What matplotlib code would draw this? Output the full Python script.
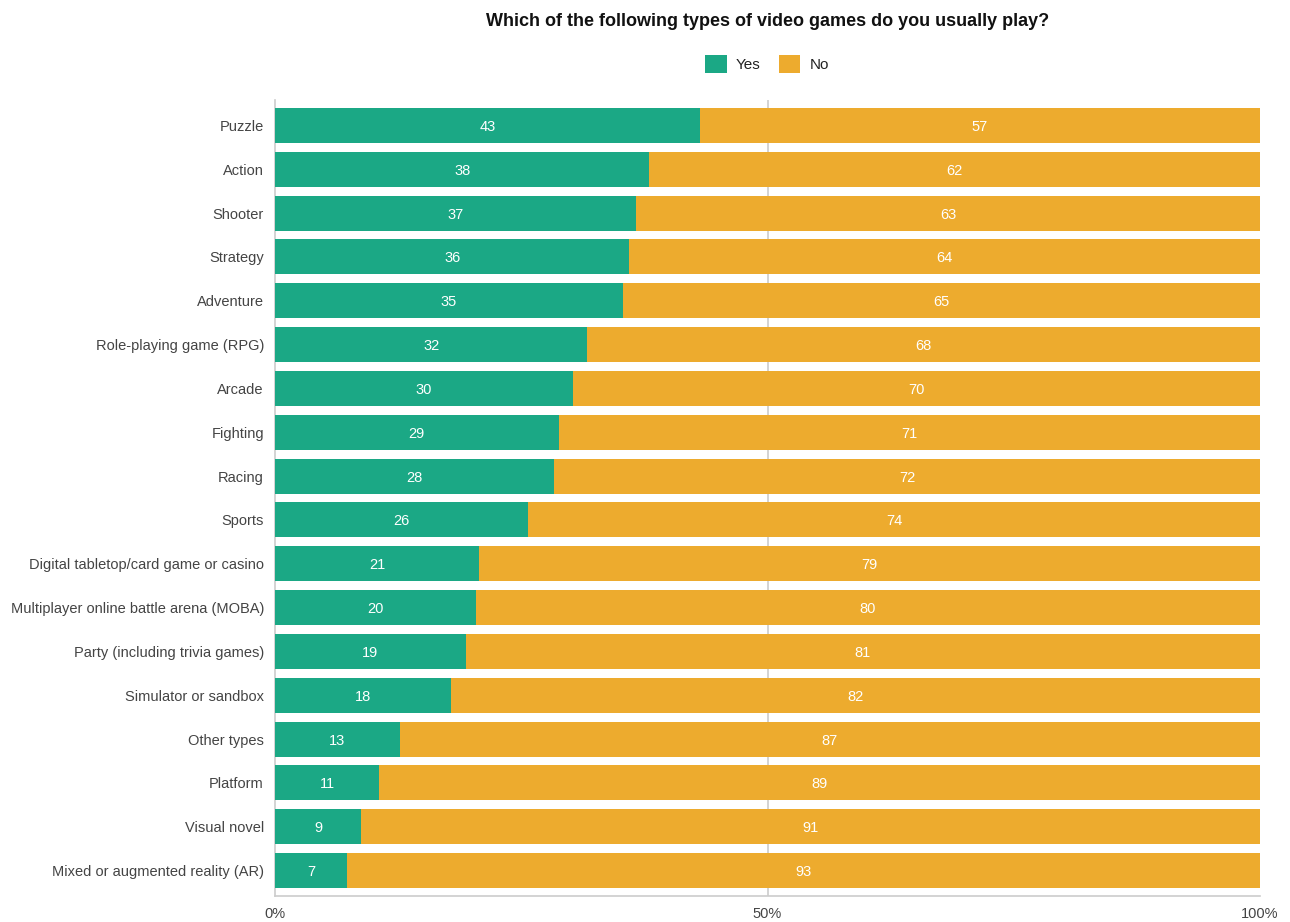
import matplotlib
matplotlib.use("Agg")
import matplotlib.pyplot as plt
from matplotlib.patches import Patch

plt.rcParams['font.family'] = ['Liberation Sans', 'DejaVu Sans']

categories = ["Puzzle", "Action", "Shooter", "Strategy", "Adventure",
              "Role-playing game (RPG)", "Arcade", "Fighting", "Racing", "Sports",
              "Digital tabletop/card game or casino", "Multiplayer online battle arena (MOBA)",
              "Party (including trivia games)", "Simulator or sandbox", "Other types",
              "Platform", "Visual novel", "Mixed or augmented reality (AR)"]
# shares (percent)
yes_vals = [43.15, 38.0, 36.68, 35.97, 35.33, 31.71, 30.28, 28.80, 28.32, 25.69,
            20.71, 20.38, 19.36, 17.87, 12.66, 10.56, 8.73, 7.34]
no_vals = [56.85, 62.0, 63.32, 64.03, 64.67, 68.29, 69.72, 71.20, 71.68, 74.31,
           79.29, 79.62, 80.64, 82.13, 87.34, 89.44, 91.27, 92.66]
# labels as printed on the bars
yes_labels = [43, 38, 37, 36, 35, 32, 30, 29, 28, 26, 21, 20, 19, 18, 13, 11, 9, 7]
no_labels = [57, 62, 63, 64, 65, 68, 70, 71, 72, 74, 79, 80, 81, 82, 87, 89, 91, 93]
x_ticks = [0, 50, 100]
x_tick_labels = ["0%", "50%", "100%"]
title = "Which of the following types of video games do you usually play?"

GREEN = "#1ba885"
ORANGE = "#edab2e"
GRID = "#cccccc"

W, H = 1290, 922
fig = plt.figure(figsize=(W / 100, H / 100), dpi=100)
ax = fig.add_axes([275 / W, 1 - 896 / H, (1260 - 275) / W, (896 - 100) / H])

y = list(range(len(categories)))
ax.barh(y, yes_vals, height=0.8, color=GREEN, zorder=3)
ax.barh(y, no_vals, left=yes_vals, height=0.8, color=ORANGE, zorder=3)

for i, (a, b, la, lb) in enumerate(zip(yes_vals, no_vals, yes_labels, no_labels)):
    ax.text(a / 2, i, str(la), ha="center", va="center_baseline", color="white", fontsize=10.5, zorder=4)
    ax.text(a + b / 2, i, str(lb), ha="center", va="center_baseline", color="white", fontsize=10.5, zorder=4)

ax.set_xlim(0, 100)
ax.set_ylim(len(categories) - 0.42, -0.58)
ax.set_yticks(y)
ax.set_yticklabels(categories, fontsize=10.5, color="#444444")
ax.set_xticks(x_ticks)
ax.set_xticklabels(x_tick_labels, fontsize=10.5, color="#444444")
ax.tick_params(axis="both", length=0, pad=8)
ax.tick_params(axis="x", pad=8)

for s in ["top", "right"]:
    ax.spines[s].set_visible(False)
ax.spines["left"].set_color(GRID)
ax.spines["bottom"].set_color(GRID)
ax.spines["left"].set_linewidth(1.2)
ax.spines["bottom"].set_linewidth(1.2)
ax.axvline(50, color=GRID, lw=1.2, zorder=1)

fig.text((275 + 1260) / 2 / W, 1 - 22 / H, title, ha="center", va="center",
         fontsize=13, fontweight="bold", color="#111111")

handles = [Patch(facecolor=GREEN, label="Yes"), Patch(facecolor=ORANGE, label="No")]
fig.legend(handles=handles, loc="center", bbox_to_anchor=(767 / W, 1 - 64 / H), ncol=2,
           frameon=False, fontsize=11, handlelength=1.4, handleheight=1.4,
           handletextpad=0.6, columnspacing=1.2, labelcolor="#222222")

fig.savefig("out.png", dpi=100)
